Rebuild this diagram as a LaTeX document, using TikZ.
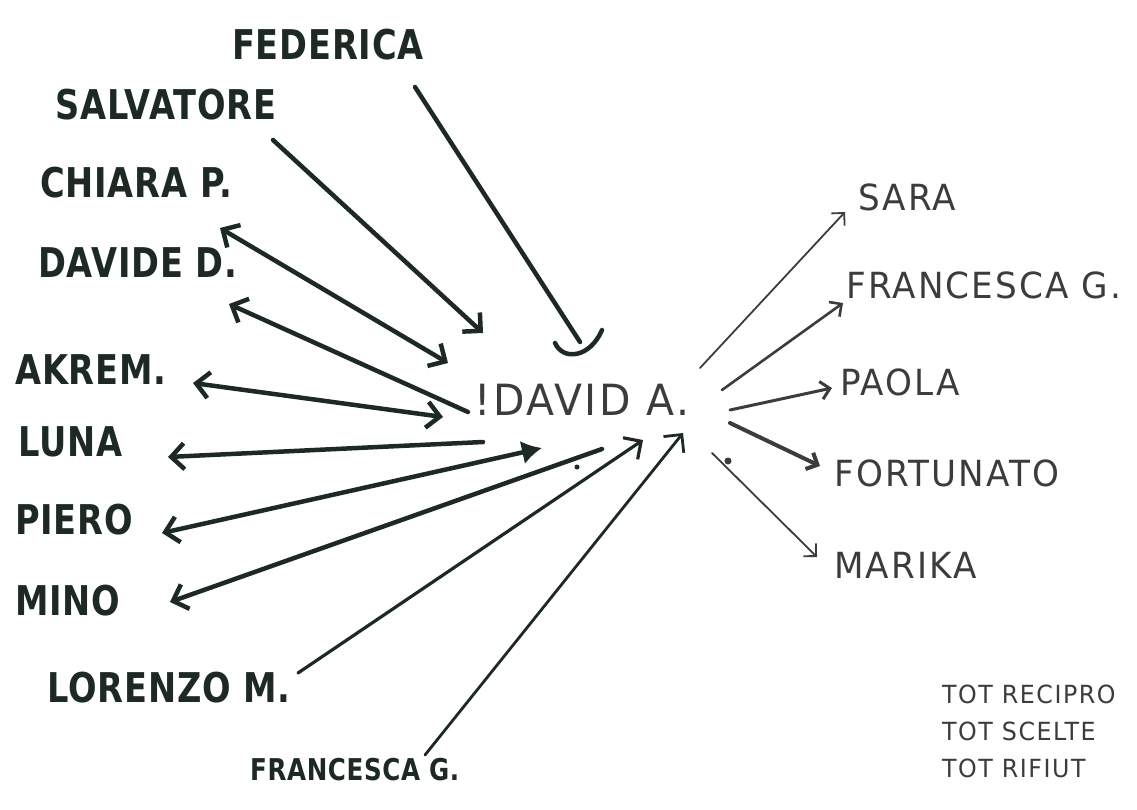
\documentclass[tikz,border=0pt]{standalone}
\usepackage{fontspec}
\setmainfont{DejaVu Sans}
\newfontfamily\handfont[FakeStretch=0.82,LetterSpace=2]{DejaVu Sans Bold}
\newfontfamily\pencilfont[FakeStretch=0.95,LetterSpace=6]{DejaVu Sans}
\usetikzlibrary{arrows.meta}
\definecolor{markerink}{HTML}{1D2A23}
\definecolor{pencilgray}{HTML}{3A3D3B}
\begin{document}
\begin{tikzpicture}[x=1pt,y=-1pt,
  >={Straight Barb[length=13pt,width=26pt]},
  kid/.style={font={\handfont\fontsize{41}{41}\selectfont},text=markerink,inner sep=0pt,anchor=west},
  pick/.style={font={\pencilfont\fontsize{36}{36}\selectfont},text=pencilgray,inner sep=0pt,anchor=west},
  tot/.style={font={\pencilfont\fontsize{25}{25}\selectfont},text=pencilgray,inner sep=0pt,anchor=west},
  bold line/.style={line width=4.5pt,draw=markerink,line cap=round},
  soft line/.style={draw=pencilgray,line cap=round,>={Straight Barb[length=9pt,width=18pt]}}]
\useasboundingbox (0,0) rectangle (1137,809);
\clip (0,0) rectangle (1137,809);
% the one at the centre
\node[pick,font={\pencilfont\fontsize{43}{43}\selectfont}] (david) at (474,400) {!DAVID A.};
% left: who chose him
\node[kid] (federica) at (232,45) {FEDERICA};
\node[kid] (salvatore) at (55,105) {SALVATORE};
\node[kid] (chiara) at (40,183) {CHIARA P.};
\node[kid] (davide) at (38,263) {DAVIDE D.};
\node[kid] (akrem) at (15,370) {AKREM.};
\node[kid] (luna) at (18,442) {LUNA};
\node[kid] (piero) at (15,520) {PIERO};
\node[kid] (mino) at (15,601) {MINO};
\node[kid] (lorenzo) at (47,688) {LORENZO M.};
\node[kid,font={\handfont\fontsize{30}{30}\selectfont}] (francescab) at (250,770) {FRANCESCA G.};
% right: who he chose
\node[pick] (sara) at (858,197) {SARA};
\node[pick] (francescar) at (846,285) {FRANCESCA G.};
\node[pick] (paola) at (840,382) {PAOLA};
\node[pick] (fortunato) at (834,473) {FORTUNATO};
\node[pick] (marika) at (834,565) {MARIKA};
% totals, bottom right
\node[tot] (totrec) at (942,694) {TOT RECIPRO};
\node[tot] (totsce) at (942,731) {TOT SCELTE};
\node[tot] (totrif) at (942,768) {TOT RIFIUT};
% line ends
\coordinate (fed-a) at (415,87);  \coordinate (fed-b) at (580,342);
\coordinate (sal-a) at (273,140); \coordinate (sal-b) at (483,333);
\coordinate (chi-a) at (220,228); \coordinate (chi-b) at (448,363);
\coordinate (dav-a) at (229,304); \coordinate (dav-b) at (468,412);
\coordinate (akr-a) at (193,383); \coordinate (akr-b) at (443,417);
\coordinate (lun-a) at (168,457); \coordinate (lun-b) at (483,442);
\coordinate (pie-a) at (162,533); \coordinate (pie-b) at (542,448);
\coordinate (min-a) at (170,602); \coordinate (min-b) at (602,449);
\coordinate (lor-a) at (298,673); \coordinate (lor-b) at (643,440);
\coordinate (frb-a) at (425,755); \coordinate (frb-b) at (683,433);
\coordinate (sar-a) at (700,368); \coordinate (sar-b) at (845,212);
\coordinate (frr-a) at (722,390); \coordinate (frr-b) at (843,303);
\coordinate (pao-a) at (730,410); \coordinate (pao-b) at (832,388);
\coordinate (for-a) at (730,423); \coordinate (for-b) at (820,466);
\coordinate (mar-a) at (712,453); \coordinate (mar-b) at (817,557);
% incoming, thick marker
\draw[bold line] (fed-a) -- (fed-b);
\draw[bold line] (555,343) .. controls (563,361) and (590,358) .. (602,330);
\draw[bold line,->] (sal-a) -- (sal-b);
\draw[bold line,<->] (chi-a) -- (chi-b);
\draw[bold line,<-] (dav-a) -- (dav-b);
\draw[bold line,<->] (akr-a) -- (akr-b);
\draw[bold line,<-] (lun-a) -- (lun-b);
\draw[bold line,{Straight Barb[length=13pt,width=26pt]}-{Latex[length=20pt,width=24pt]}] (pie-a) -- (pie-b);
\draw[bold line,<-] (min-a) -- (min-b);
\fill[markerink] (577,467) circle (2.5);
\draw[bold line,line width=3.2pt,->] (lor-a) -- (lor-b);
\draw[bold line,line width=2.8pt,->] (frb-a) -- (frb-b);
% outgoing, pencil
\draw[soft line,line width=1.8pt,->] (sar-a) -- (sar-b);
\draw[soft line,line width=2.6pt,->] (frr-a) -- (frr-b);
\draw[soft line,line width=3pt,->] (pao-a) -- (pao-b);
\draw[soft line,line width=4pt,->] (for-a) -- (for-b);
\draw[soft line,line width=1.8pt,->] (mar-a) -- (mar-b);
\fill[pencilgray] (728,461) circle (3.5);
\end{tikzpicture}
\end{document}
